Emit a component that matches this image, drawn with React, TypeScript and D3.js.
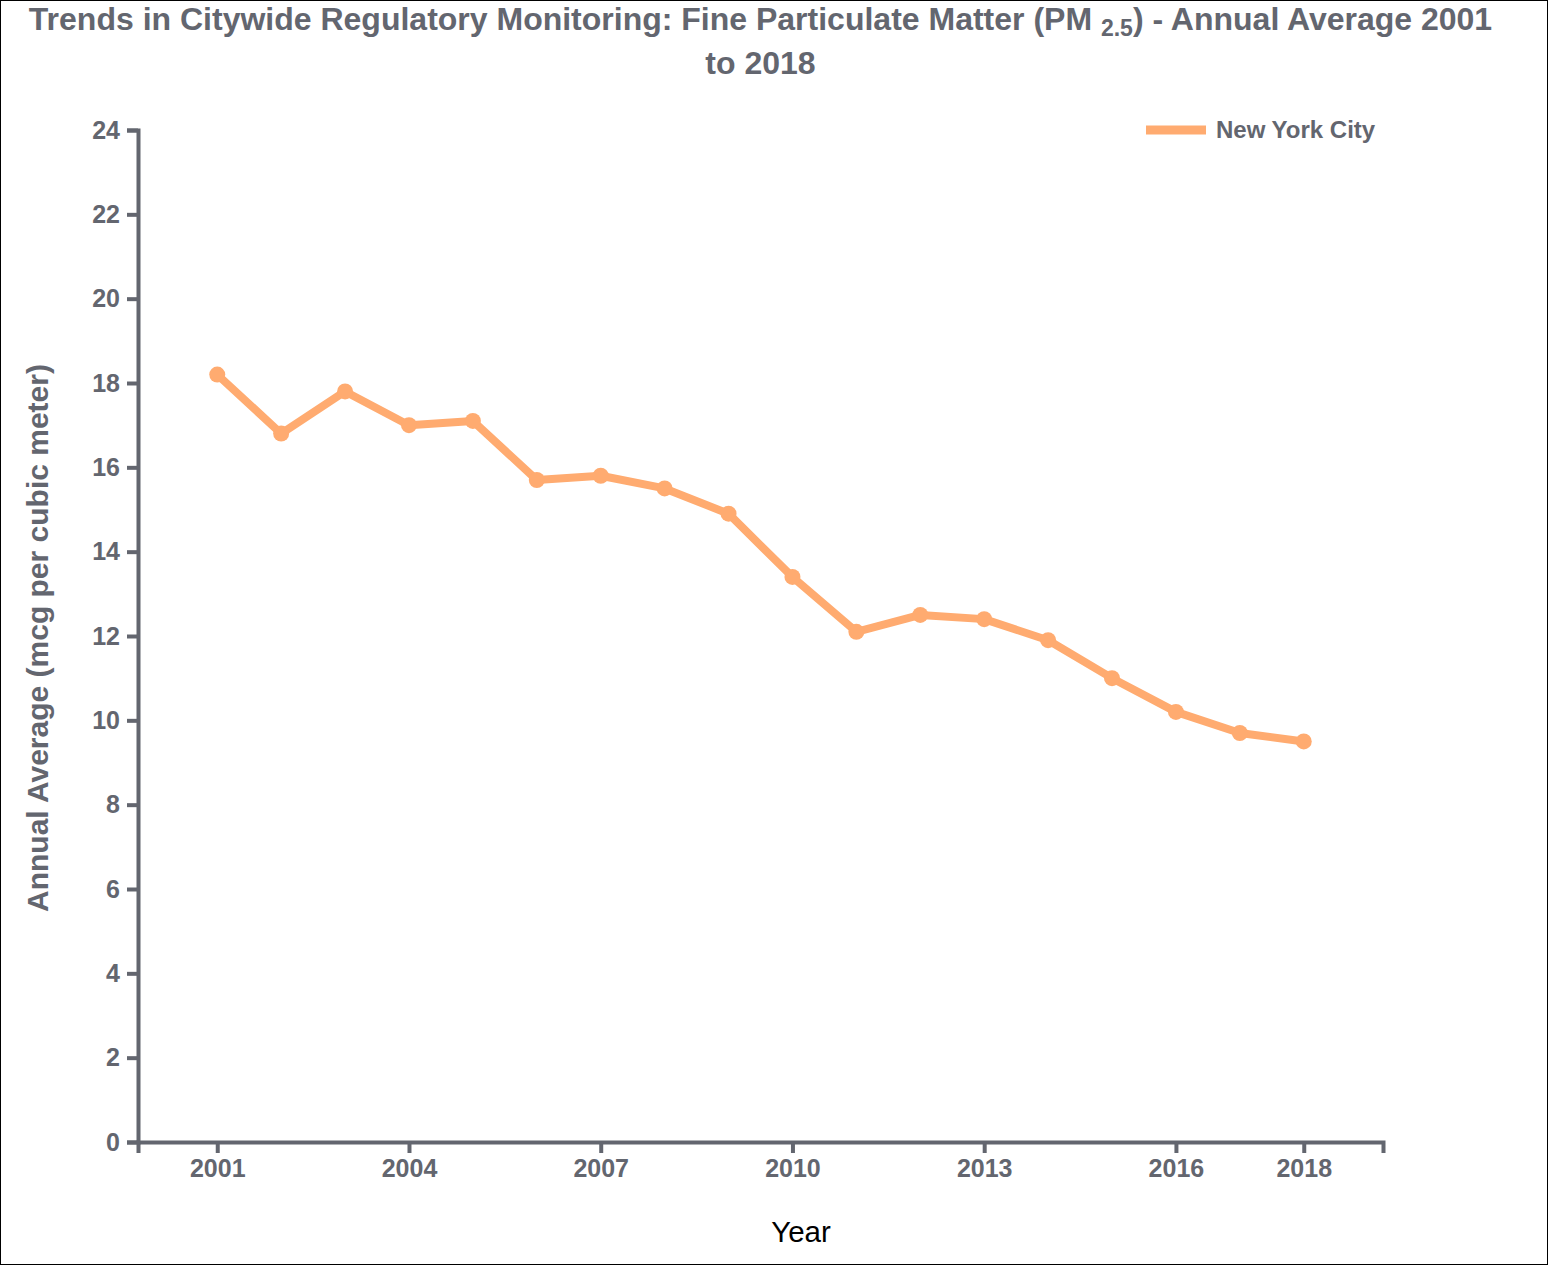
import { useEffect, useRef } from "react";
import * as d3 from "d3";

// ── Data ──────────────────────────────────────────────────────────────────────

const YEARS  = [2001,2002,2003,2004,2005,2006,2007,2008,2009,2010,2011,2012,2013,2014,2015,2016,2017,2018];
const NYC_PM = [18.2,16.8,17.8,17.0,17.1,15.7,15.8,15.5,14.9,13.4,12.1,12.5,12.4,11.9,11.0,10.2,9.7,9.5];
const X_TICKS = [2001,2004,2007,2010,2013,2016,2018];
const Y_TICKS = [0,2,4,6,8,10,12,14,16,18,20,22,24];
const SERIES_NAME = "New York City";

// ── Config ────────────────────────────────────────────────────────────────────

const W = 1549;
const H = 1266;
const MARGIN = { top: 130, right: 166, bottom: 124, left: 138 };
const GREY   = "#63666f";
const LINE   = "#ffab70";
const FONT   = "'Liberation Sans', Arial, sans-serif";

const App = () => {
  const svgRef = useRef<SVGSVGElement>(null);

  useEffect(() => {
    if (!svgRef.current) return;
    const root = d3.select(svgRef.current);
    root.selectAll("*").remove();

    const width  = W - MARGIN.left - MARGIN.right;
    const height = H - MARGIN.top  - MARGIN.bottom;

    root.append("rect")
      .attr("x", 0.5).attr("y", 0.5)
      .attr("width", W - 2).attr("height", H - 2)
      .attr("fill", "white")
      .attr("stroke", "#000");

    const svg = root.append("g")
      .attr("transform", `translate(${MARGIN.left},${MARGIN.top})`);

    const x = d3.scaleLinear()
      .domain([YEARS[0] - 1.24, YEARS[YEARS.length - 1] + 1.24])
      .range([0, width]);

    const y = d3.scaleLinear()
      .domain([0, 24])
      .range([height, 0]);

    // Title
    const title = root.append("text")
      .attr("text-anchor", "middle")
      .attr("font-family", FONT)
      .attr("font-weight", "bold")
      .attr("font-size", 32)
      .attr("fill", GREY);

    const t1 = title.append("tspan").attr("x", MARGIN.left + width / 2).attr("y", 30);
    t1.append("tspan").text("Trends in Citywide Regulatory Monitoring: Fine Particulate Matter (PM ");
    t1.append("tspan").attr("font-size", 23).attr("dy", 6).text("2.5");
    t1.append("tspan").attr("dy", -6).text(") - Annual Average 2001");
    title.append("tspan").attr("x", MARGIN.left + width / 2).attr("y", 74).text("to 2018");

    // X axis
    const xAxis = svg.append("g")
      .attr("transform", `translate(0,${height})`)
      .call(
        d3.axisBottom(x)
          .tickValues(X_TICKS)
          .tickFormat((d) => String(d))
          .tickSize(11)
          .tickSizeOuter(11)
          .tickPadding(6)
      );

    // Y axis
    const yAxis = svg.append("g")
      .call(
        d3.axisLeft(y)
          .tickValues(Y_TICKS)
          .tickSize(11)
          .tickSizeOuter(11)
          .tickPadding(7)
      );

    [xAxis, yAxis].forEach((g) => {
      g.selectAll("path.domain, .tick line")
        .attr("stroke", GREY)
        .attr("stroke-width", 4);
      g.selectAll("text")
        .attr("font-family", FONT)
        .attr("font-weight", "bold")
        .attr("font-size", 25)
        .attr("fill", GREY);
    });
    xAxis.selectAll("text").attr("dy", "0.72em");

    // Axis titles
    root.append("text")
      .attr("x", 801)
      .attr("y", 1242)
      .attr("text-anchor", "middle")
      .attr("font-family", FONT)
      .attr("font-size", 29.5)
      .attr("fill", "#000")
      .text("Year");

    svg.append("text")
      .attr("transform", `translate(${48 - MARGIN.left},${height / 2 + 2}) rotate(-90)`)
      .attr("text-anchor", "middle")
      .attr("font-family", FONT)
      .attr("font-weight", "bold")
      .attr("font-size", 30)
      .attr("fill", GREY)
      .text("Annual Average (mcg per cubic meter)");

    // Line
    const chartData = YEARS.map((year, i) => ({ year, value: NYC_PM[i] }));

    const line = d3.line<{ year: number; value: number }>()
      .x((d) => x(d.year))
      .y((d) => y(d.value));

    svg.append("path")
      .datum(chartData)
      .attr("fill", "none")
      .attr("stroke", LINE)
      .attr("stroke-width", 8)
      .attr("stroke-linejoin", "round")
      .attr("d", line);

    svg.selectAll(".dot")
      .data(chartData)
      .join("circle")
      .attr("class", "dot")
      .attr("cx", (d) => x(d.year))
      .attr("cy", (d) => y(d.value))
      .attr("r", 8)
      .attr("fill", LINE);

    // Legend
    const legend = root.append("g").attr("transform", "translate(1146,130)");
    legend.append("line")
      .attr("x1", 0).attr("x2", 60)
      .attr("y1", 0).attr("y2", 0)
      .attr("stroke", LINE)
      .attr("stroke-width", 9);
    legend.append("text")
      .attr("x", 70)
      .attr("y", 8)
      .attr("font-family", FONT)
      .attr("font-weight", "bold")
      .attr("font-size", 24)
      .attr("fill", GREY)
      .text(SERIES_NAME);
  }, []);

  return (
    <div style={{ position: "absolute", left: 0, top: 0, background: "white" }}>
      <svg ref={svgRef} width={W} height={H} style={{ display: "block" }} />
    </div>
  );
};

export default App;
